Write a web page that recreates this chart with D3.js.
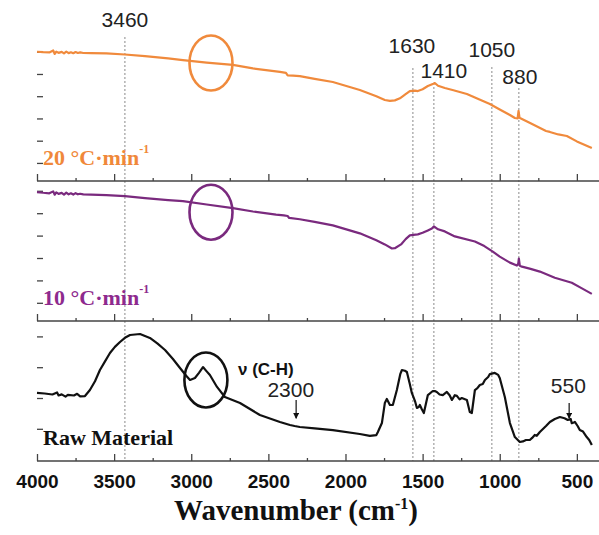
<!DOCTYPE html>
<html>
<head>
<meta charset="utf-8">
<script src="https://cdn.jsdelivr.net/npm/d3@7"></script>
<style>
  body { margin: 0; background: #fff; }
  svg { display: block; }
</style>
</head>
<body>
<svg id="chart" width="599" height="535"></svg>
<script>
// x axis ticks (cm-1)
const majorTicks = [4000, 3500, 3000, 2500, 2000, 1500, 1000, 500];
const minorTicks = [3750, 3250, 2750, 2250, 1750, 1250, 750];

// left axis ticks (arbitrary transmittance units, 0-100 per panel)
const heatedTicks = [13, 29, 45, 61, 77, 93];
const rawTicks = [23, 45, 67, 89];

// dashed reference lines: where they are drawn and what they are labelled
const peakLines = [3430, 1563, 1427, 1051, 876];
const peakLabels = ['3460', '1630', '1410', '1050', '880'];

// spectra as [wavenumber, value]
const spectrum20 = [
  [4000, 93], [3960, 92.7], [3920, 92.5], [3895, 93.9], [3885, 91.4], [3875, 93], [3860, 92.2],
  [3840, 92.9], [3825, 91.8], [3810, 93.1], [3795, 92], [3780, 92.6], [3765, 91.9], [3750, 92.8],
  [3735, 92.1], [3720, 92.5], [3700, 92.1], [3650, 92], [3550, 91.8], [3430, 91], [3300, 89.8],
  [3150, 88.2], [3054, 87], [2900, 85.2], [2730, 83.5], [2600, 81], [2425, 78.5], [2386, 77.8],
  [2375, 76], [2340, 75.8], [2296, 75.5], [2200, 73.5], [2082, 71.2], [1907, 65.5], [1800, 61],
  [1745, 58.3], [1712, 57.6], [1680, 58], [1647, 59.5], [1610, 62.5], [1583, 64.7], [1550, 65],
  [1531, 64.7], [1500, 66], [1466, 68.3], [1430, 70], [1421, 70.5], [1400, 68.5], [1356, 66.9],
  [1300, 65.3], [1213, 62.6], [1150, 59.5], [1064, 55.4], [1000, 51.5], [934, 47.5], [902, 45.3],
  [884, 45], [878, 50.5], [872, 45.5], [856, 44.6], [800, 41.5], [700, 36], [675, 35.3],
  [620, 33.5], [565, 32.4], [500, 28.5], [403, 23.7]
];

const spectrum10 = [
  [4000, 92.1], [3960, 91.6], [3920, 91.2], [3895, 92.6], [3885, 90.2], [3875, 91.9], [3860, 90.8],
  [3840, 91.5], [3825, 90.3], [3810, 91.7], [3795, 90.5], [3780, 91.2], [3765, 90.3], [3750, 91.3],
  [3735, 90.5], [3720, 90.9], [3700, 90.4], [3650, 90.2], [3550, 89.9], [3430, 89.2], [3300, 87.8],
  [3150, 86.4], [3054, 85.6], [2900, 83.2], [2730, 80.6], [2600, 78.2], [2450, 76], [2400, 75.5],
  [2375, 75], [2365, 73.6], [2296, 72.7], [2200, 70.8], [2082, 68.3], [1907, 62.6], [1800, 57.6],
  [1745, 54.7], [1699, 51.8], [1680, 52], [1640, 54.7], [1610, 58.5], [1583, 61.2], [1560, 61.5],
  [1531, 61.9], [1500, 63], [1466, 64.7], [1440, 66], [1427, 67.6], [1400, 65.5], [1356, 64],
  [1291, 60.4], [1161, 56.8], [1100, 53.5], [1045, 49.6], [1000, 46], [934, 41.7], [889, 39.6],
  [880, 41], [876, 44.6], [870, 39.5], [856, 38.8], [800, 37.2], [740, 35.3], [643, 30.9],
  [533, 27.3], [470, 23.5], [403, 19.4]
];

const spectrumRaw = [
  [4000, 48.6], [3950, 48.2], [3900, 47.5], [3870, 49], [3860, 46.8], [3840, 47.6], [3815, 46],
  [3800, 47.2], [3760, 46.8], [3740, 48], [3720, 46.2], [3689, 46.4], [3657, 50.7], [3624, 57],
  [3592, 65], [3560, 71], [3527, 77.1], [3495, 81.5], [3462, 85], [3430, 88], [3397, 90],
  [3332, 90.7], [3268, 87.9], [3220, 84], [3170, 79.3], [3120, 73], [3073, 66.4], [3030, 60.5],
  [3008, 57.9], [2976, 59.3], [2950, 63], [2924, 67.1], [2900, 64], [2879, 61.4], [2833, 52.9],
  [2782, 45.7], [2684, 41.4], [2555, 32.9], [2425, 27.9], [2360, 25.7], [2330, 25], [2296, 24.3],
  [2200, 23.3], [2082, 22.1], [1907, 19.3], [1842, 17.9], [1800, 18.5], [1790, 20.7], [1764, 27.1],
  [1745, 41.4], [1732, 44.3], [1712, 40], [1693, 40], [1667, 50.7], [1645, 62], [1634, 65],
  [1615, 64.5], [1602, 63.6], [1583, 55], [1570, 48.6], [1550, 43], [1537, 37.9], [1525, 38.5],
  [1518, 40], [1505, 37], [1492, 34.3], [1466, 47.1], [1434, 50], [1421, 50], [1408, 49.3],
  [1390, 47.5], [1369, 47.1], [1343, 49.3], [1325, 47], [1310, 43.6], [1291, 47], [1278, 46.5],
  [1260, 44], [1246, 45], [1213, 43.6], [1194, 35], [1181, 34.3], [1161, 50.7], [1145, 52],
  [1129, 54.3], [1110, 55], [1096, 57.9], [1075, 60], [1064, 62.1], [1032, 62.9], [1010, 61.5],
  [1000, 59.3], [967, 45.7], [934, 27.1], [902, 17.1], [870, 13.6], [850, 14], [830, 15],
  [805, 15], [790, 16.5], [773, 18.6], [760, 18], [740, 20.7], [700, 25], [675, 27.9],
  [643, 30], [610, 31.4], [580, 30.5], [559, 29.3], [540, 30], [533, 27], [520, 27.5],
  [513, 27.9], [495, 25], [481, 22.1], [460, 21], [436, 17.1], [420, 15], [403, 11.4]
];

// circled C-H region, [wavenumber, value] of the ellipse centre per panel
const circle20 = [2872, 84.9];
const circle10 = [2872, 77.7];
const circleRaw = [2905, 57.9];

const panelLabels = ['20 °C·min', '10 °C·min', 'Raw Material'];

const svg = d3.select('#chart');
const left = 37, right = 600;
const x = d3.scaleLinear().domain([4000, 350]).range([left, right]);

const panels = [
  { top: 42, bottom: 181, data: spectrum20, color: '#f08a3c', labelColor: '#f0883a', ticks: heatedTicks, circle: circle20, label: panelLabels[0], sup: true },
  { top: 181, bottom: 321, data: spectrum10, color: '#7a2a7e', labelColor: '#8e2a8e', ticks: heatedTicks, circle: circle10, label: panelLabels[1], sup: true },
  { top: 321, bottom: 461, data: spectrumRaw, color: '#111', labelColor: '#111', ticks: rawTicks, circle: circleRaw, label: panelLabels[2], sup: false }
];

svg.append('defs').append('marker')
  .attr('id', 'arrow')
  .attr('viewBox', '0 0 10 10')
  .attr('refX', 9).attr('refY', 5)
  .attr('markerWidth', 5).attr('markerHeight', 5)
  .attr('orient', 'auto')
  .append('path')
  .attr('d', 'M0,0 L10,5 L0,10 z')
  .attr('fill', '#111');

// dashed reference lines under everything
const peakLayout = [
  { dx: 0, baseline: 27, start: 37 },
  { dx: -1, baseline: 53, start: 68 },
  { dx: 10, baseline: 78, start: 87 },
  { dx: 0, baseline: 57, start: 67 },
  { dx: 1, baseline: 84, start: 88 }
];

peakLines.forEach((v, i) => {
  svg.append('line')
    .attr('x1', x(v)).attr('x2', x(v))
    .attr('y1', peakLayout[i].start).attr('y2', 461)
    .attr('stroke', '#8a8a8a')
    .attr('stroke-width', 1)
    .attr('stroke-dasharray', '2,2');
  svg.append('text')
    .attr('x', x(v) + peakLayout[i].dx)
    .attr('y', peakLayout[i].baseline)
    .attr('text-anchor', 'middle')
    .style('font-family', 'Liberation Sans, Arial, sans-serif')
    .style('font-size', '21px')
    .style('fill', '#222')
    .text(peakLabels[i]);
});

panels.forEach((p, idx) => {
  const y = d3.scaleLinear().domain([0, 100]).range([p.bottom, p.top]);
  const g = svg.append('g');

  // bottom axis line with inward ticks
  const isLast = idx === panels.length - 1;
  const axisG = g.append('g').attr('transform', `translate(0,${p.bottom})`);
  axisG.call(d3.axisBottom(x).tickValues(majorTicks).tickSize(-7).tickSizeOuter(0)
    .tickFormat(isLast ? d3.format('d') : ''));
  axisG.append('g').call(d3.axisBottom(x).tickValues(minorTicks).tickSize(-3).tickFormat(''));
  axisG.selectAll('.domain').remove();
  axisG.append('line').attr('x1', left).attr('x2', 599).attr('stroke', '#444').attr('stroke-width', 1.5);
  axisG.selectAll('.tick line').attr('stroke', '#444').attr('stroke-width', 1.3);
  axisG.selectAll('.tick text')
    .attr('y', 14)
    .attr('dy', '0.71em')
    .style('font-family', 'Liberation Sans, Arial, sans-serif')
    .style('font-weight', 'bold')
    .style('font-size', '19px')
    .style('fill', '#111');

  // left axis ticks pointing inward
  const leftG = g.append('g').attr('transform', `translate(${left},0)`);
  leftG.call(d3.axisRight(y).tickValues(p.ticks).tickSize(6).tickFormat(''));
  leftG.selectAll('.domain').remove();
  leftG.selectAll('.tick line').attr('stroke', '#444').attr('stroke-width', 1.3);

  // spectrum
  const line = d3.line().x(d => x(d[0])).y(d => y(d[1]));
  g.append('path')
    .datum(p.data)
    .attr('fill', 'none')
    .attr('stroke', p.color)
    .attr('stroke-width', 2.2)
    .attr('stroke-linejoin', 'round')
    .attr('d', line);

  // circled region
  g.append('ellipse')
    .attr('cx', x(p.circle[0]))
    .attr('cy', y(p.circle[1]))
    .attr('rx', 21.5)
    .attr('ry', 27.5)
    .attr('fill', 'none')
    .attr('stroke', p.color)
    .attr('stroke-width', 2.6);

  // panel label
  const t = g.append('text')
    .attr('x', 43)
    .attr('y', p.bottom - 16)
    .style('font-family', 'Liberation Serif, Times New Roman, serif')
    .style('font-weight', 'bold')
    .style('font-size', '22px')
    .style('fill', p.labelColor)
    .text(p.label);
  if (p.sup) {
    t.append('tspan').attr('dy', -12).style('font-size', '12px').text('-1');
  }
});

// annotations on raw material panel
const yRaw = d3.scaleLinear().domain([0, 100]).range([461, 321]);

svg.append('text')
  .attr('x', x(2697)).attr('y', yRaw(61.4))
  .style('font-family', 'Liberation Sans, Arial, sans-serif')
  .style('font-weight', 'bold')
  .style('font-size', '17px')
  .style('fill', '#111')
  .text('ν (C-H)');

svg.append('text')
  .attr('x', x(2355)).attr('y', 397)
  .attr('text-anchor', 'middle')
  .style('font-family', 'Liberation Sans, Arial, sans-serif')
  .style('font-size', '21px')
  .style('fill', '#222')
  .text('2300');

svg.append('line')
  .attr('x1', x(2320)).attr('x2', x(2320))
  .attr('y1', yRaw(43.6)).attr('y2', yRaw(30.5))
  .attr('stroke', '#111').attr('stroke-width', 1.2)
  .attr('marker-end', 'url(#arrow)');

svg.append('text')
  .attr('x', x(555)).attr('y', 393)
  .attr('text-anchor', 'middle')
  .style('font-family', 'Liberation Sans, Arial, sans-serif')
  .style('font-size', '21px')
  .style('fill', '#222')
  .text('550');

svg.append('line')
  .attr('x1', x(550)).attr('x2', x(550))
  .attr('y1', yRaw(41.4)).attr('y2', yRaw(30.5))
  .attr('stroke', '#111').attr('stroke-width', 1.2)
  .attr('marker-end', 'url(#arrow)');

// x axis title
const title = svg.append('text')
  .attr('x', 296).attr('y', 520)
  .attr('text-anchor', 'middle')
  .style('font-family', 'Liberation Serif, Times New Roman, serif')
  .style('font-weight', 'bold')
  .style('font-size', '29px')
  .style('fill', '#111')
  .text('Wavenumber (cm');
title.append('tspan').attr('dy', -11).style('font-size', '16px').text('-1');
title.append('tspan').attr('dy', 11).text(')');
</script>
</body>
</html>
